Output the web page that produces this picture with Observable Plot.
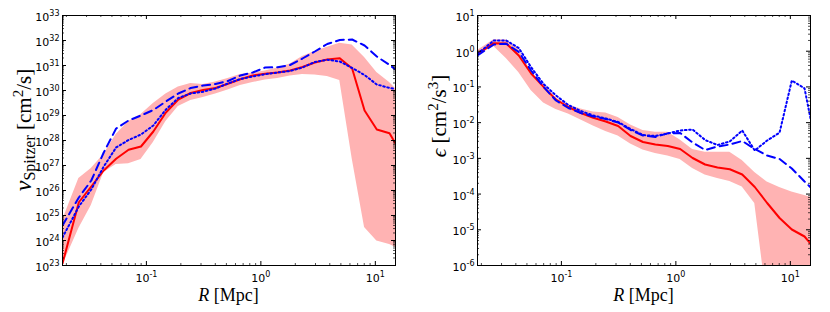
<!DOCTYPE html>
<html><head><meta charset="utf-8">
<script src="https://cdn.jsdelivr.net/npm/d3@7"></script>
<script src="https://cdn.jsdelivr.net/npm/@observablehq/plot@0.6"></script>
<style>
body{margin:0;background:#fff}
#wrap{display:flex;width:830px;height:312px}
svg{display:block}
</style></head><body><div id="wrap"></div>
<script>
// Radius bins [Mpc]
const R = [0.0185, 0.0257, 0.033, 0.0424, 0.0544, 0.0699, 0.0897, 0.115, 0.148, 0.19, 0.244, 0.313, 0.402, 0.516, 0.662, 0.85, 1.09, 1.4, 1.8, 2.31, 2.96, 3.8, 4.89, 6.27, 8.05, 10.3, 13.3, 15.0];

// Left panel: log10 nu_Spitzer [cm^2/s]
const nuMedian = [23.08, 25.53, 26.16, 26.8, 27.27, 27.63, 27.76, 28.36, 29.12, 29.64, 29.9, 30.02, 30.1, 30.27, 30.45, 30.6, 30.67, 30.72, 30.8, 30.94, 31.12, 31.24, 31.29, 30.88, 29.2, 28.44, 28.29, 27.88];
const nuDashed = [24.6, 25.72, 26.4, 27.52, 28.48, 28.8, 29.0, 29.22, 29.56, 29.88, 30.1, 30.2, 30.26, 30.38, 30.6, 30.72, 30.92, 30.93, 31.02, 31.28, 31.56, 31.86, 32.02, 32.04, 31.8, 31.36, 31.02, 30.84];
const nuDotted = [24.12, 25.36, 26.04, 26.96, 27.72, 28.02, 28.24, 28.6, 29.24, 29.7, 29.88, 29.95, 30.08, 30.28, 30.46, 30.56, 30.65, 30.72, 30.78, 30.92, 31.14, 31.23, 31.16, 30.9, 30.62, 30.24, 30.1, 30.06];
const nuUpper = [24.8, 26.48, 26.88, 27.44, 28.24, 28.76, 29.04, 29.48, 29.86, 30.14, 30.28, 30.24, 30.34, 30.48, 30.64, 30.7, 30.78, 30.9, 31.06, 31.36, 31.56, 31.73, 31.89, 31.82, 31.32, 30.72, 30.32, 30.08];
const nuLower = [23.0, 24.48, 25.4, 26.72, 27.04, 27.07, 27.24, 27.92, 28.76, 29.36, 29.6, 29.72, 29.86, 30.02, 30.2, 30.32, 30.42, 30.48, 30.58, 30.64, 30.62, 30.56, 30.4, 27.28, 24.52, 23.98, 23.84, 23.73];

// Right panel: log10 epsilon [cm^2/s^3]
const epsMedian = [-0.072, 0.224, 0.216, -0.12, -0.624, -1.0, -1.352, -1.562, -1.73, -1.864, -1.968, -2.094, -2.374, -2.542, -2.612, -2.654, -2.738, -2.99, -3.172, -3.256, -3.304, -3.452, -3.802, -4.25, -4.67, -4.992, -5.188, -5.384];
const epsDashed = [-0.12, 0.188, 0.21, -0.022, -0.54, -1.0, -1.38, -1.59, -1.73, -1.828, -1.898, -1.996, -2.206, -2.36, -2.40, -2.30, -2.29, -2.556, -2.766, -2.668, -2.612, -2.514, -2.738, -2.92, -3.018, -3.284, -3.648, -3.808];
const epsDotted = [-0.072, 0.3, 0.3, 0.09, -0.448, -0.918, -1.24, -1.506, -1.674, -1.8, -1.884, -1.982, -2.178, -2.346, -2.374, -2.304, -2.22, -2.192, -2.486, -2.626, -2.528, -2.22, -2.78, -2.5, -2.28, -0.82, -1.04, -1.88];
const epsUpper = [0.02, 0.32, 0.314, 0.048, -0.568, -0.974, -1.31, -1.506, -1.618, -1.702, -1.73, -1.856, -2.066, -2.22, -2.268, -2.268, -2.486, -2.752, -2.828, -2.828, -2.828, -3.06, -3.396, -3.662, -3.816, -3.942, -4.04, -4.088];
const epsLower = [-0.12, 0.132, -0.204, -0.596, -1.1, -1.45, -1.632, -1.758, -1.926, -2.094, -2.248, -2.374, -2.598, -2.766, -2.864, -2.934, -3.032, -3.284, -3.466, -3.564, -3.648, -3.802, -4.264, -7, -7, -7, -7, -7];

// Axis ticks
const xDomain = [0.0185, 15];
const xMajor = [0.1, 1, 10];
const nuMajorExp = [23, 24, 25, 26, 27, 28, 29, 30, 31, 32, 33];
const epsMajorExp = [-6, -5, -4, -3, -2, -1, 0, 1];

function minorsBetween(exps, lo, hi) {
  const out = [];
  for (const e of exps) for (let m = 2; m <= 9; m++) {
    const v = m * Math.pow(10, e);
    if (v >= lo && v <= hi) out.push(v);
  }
  return out;
}

function panel(cfg) {
  const rows = R.map((r, i) => ({
    r,
    med: Math.pow(10, cfg.med[i]),
    dash: Math.pow(10, cfg.dash[i]),
    dot: Math.pow(10, cfg.dot[i]),
    lo: Math.pow(10, cfg.lo[i]),
    hi: Math.pow(10, cfg.hi[i])
  }));
  const W = 415, H = 312, ml = 62, mr = 20, mt = 15, mb = 47;
  const pw = W - ml - mr, ph = H - mt - mb;
  const yMajor = cfg.yExp.map(e => Math.pow(10, e));
  const yDomain = [yMajor[0], yMajor[yMajor.length - 1]];
  const xMinor = minorsBetween([-2, -1, 0, 1], xDomain[0], xDomain[1]);
  const yMinor = minorsBetween(cfg.yExp, yDomain[0], yDomain[1]);
  const fmt = d => "10^" + Math.round(Math.log10(d));
  const tk = {stroke: "black", strokeWidth: 1};
  const tm = {stroke: "black", strokeWidth: 0.7};
  const svg = Plot.plot({
    width: W, height: H,
    marginLeft: ml, marginRight: mr, marginTop: mt, marginBottom: mb,
    style: {background: "white", fontFamily: "DejaVu Sans", fontSize: "11px", color: "black", overflow: "visible"},
    x: {type: "log", domain: xDomain, axis: null},
    y: {type: "log", domain: yDomain, axis: null},
    marks: [
      Plot.areaY(rows, {x: "r", y1: "lo", y2: "hi", fill: "#ffb3b3", clip: true}),
      Plot.lineY(rows, {x: "r", y: "med", stroke: "#ff0000", strokeWidth: 2, clip: true}),
      Plot.lineY(rows, {x: "r", y: "dash", stroke: "#0000ff", strokeWidth: 2, strokeDasharray: "8,5", clip: true}),
      Plot.lineY(rows, {x: "r", y: "dot", stroke: "#0000ff", strokeWidth: 2, strokeDasharray: "1.6,2.6", clip: true}),
      Plot.frame({stroke: "black", strokeWidth: 1}),
      Plot.tickX(xMinor, {x: d => d, insetTop: ph - 2, ...tm}),
      Plot.tickX(xMinor, {x: d => d, insetBottom: ph - 2, ...tm}),
      Plot.tickX(xMajor, {x: d => d, insetTop: ph - 4, ...tk}),
      Plot.tickX(xMajor, {x: d => d, insetBottom: ph - 4, ...tk}),
      Plot.tickY(yMinor, {y: d => d, insetRight: pw - 2, ...tm}),
      Plot.tickY(yMinor, {y: d => d, insetLeft: pw - 2, ...tm}),
      Plot.tickY(yMajor, {y: d => d, insetRight: pw - 4, ...tk}),
      Plot.tickY(yMajor, {y: d => d, insetLeft: pw - 4, ...tk}),
      Plot.axisX({ticks: xMajor, anchor: "bottom", tickSize: 0, tickPadding: 9, tickFormat: fmt, label: null, fontSize: 11}),
      Plot.axisY({ticks: yMajor, anchor: "left", tickSize: 0, tickPadding: 3, tickFormat: fmt, label: null, fontSize: 11, dy: 2})
    ]
  });
  const s = d3.select(svg);
  s.selectAll('g[aria-label$="tick label"] text').each(function () {
    const t = d3.select(this);
    const parts = t.text().split("^");
    if (parts.length !== 2) return;
    t.text(parts[0]);
    t.append("tspan").attr("dy", "-5").attr("font-size", 8).text(parts[1]);
  });
  const serif = "'Liberation Serif', 'DejaVu Serif', serif";
  // x label
  const xl = s.append("text").attr("x", ml + pw / 2).attr("y", 301)
    .attr("text-anchor", "middle").attr("font-family", serif).attr("font-size", 18).attr("fill", "black");
  xl.append("tspan").attr("font-style", "italic").text("R");
  xl.append("tspan").text(" [Mpc]");
  // y label
  const yl = s.append("text").attr("transform", `translate(31,${cfg.yLabelY}) rotate(-90)`)
    .attr("text-anchor", "middle").attr("font-family", serif).attr("font-size", 21).attr("fill", "black");
  cfg.yLabel(yl);
  return svg;
}

const wrap = document.getElementById("wrap");
wrap.appendChild(panel({
  med: nuMedian, dash: nuDashed, dot: nuDotted, lo: nuLower, hi: nuUpper,
  yExp: nuMajorExp, yLabelY: 130,
  yLabel: t => {
    t.append("tspan").attr("font-style", "italic").attr("font-size", 24).text("ν");
    t.append("tspan").attr("font-size", 16).attr("dy", 4).text("Spitzer");
    t.append("tspan").attr("dy", -4).text(" [cm");
    t.append("tspan").attr("font-size", 15).attr("dy", -8).text("2");
    t.append("tspan").attr("dy", 8).text("/s]");
  }
}));
wrap.appendChild(panel({
  med: epsMedian, dash: epsDashed, dot: epsDotted, lo: epsLower, hi: epsUpper,
  yExp: epsMajorExp, yLabelY: 116,
  yLabel: t => {
    t.append("tspan").attr("font-style", "italic").text("ϵ");
    t.append("tspan").text(" [cm");
    t.append("tspan").attr("font-size", 15).attr("dy", -8).text("2");
    t.append("tspan").attr("dy", 8).text("/s");
    t.append("tspan").attr("font-size", 15).attr("dy", -8).text("3");
    t.append("tspan").attr("dy", 8).text("]");
  }
}));
</script></body></html>
